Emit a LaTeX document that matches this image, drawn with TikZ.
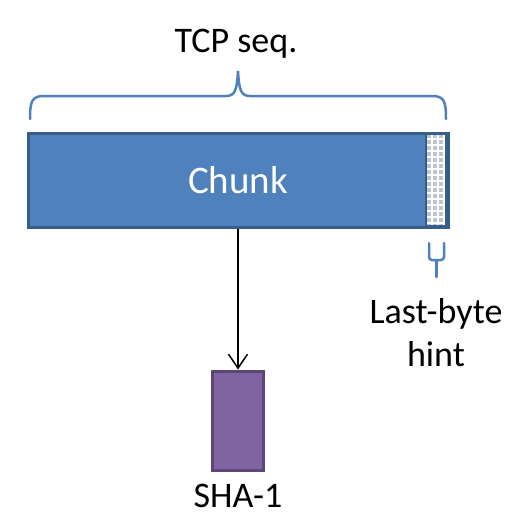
\documentclass[tikz,border=0pt]{standalone}
\usepackage{fontspec}
\setmainfont{Carlito}
\usetikzlibrary{arrows.meta,patterns.meta}
\definecolor{chunkblue}{RGB}{79,129,189}
\definecolor{chunkedge}{RGB}{56,93,138}
\definecolor{shapurple}{RGB}{128,100,162}
\definecolor{shaedge}{RGB}{92,71,118}
\definecolor{hintgray}{RGB}{190,196,206}

\begin{document}
\begin{tikzpicture}[x=1pt,y=-1pt,
  font=\fontsize{36}{43}\selectfont,
  chunkbox/.style={draw=chunkedge,line width=3pt,fill=chunkblue,
    minimum width=420pt,minimum height=94pt,inner sep=0pt,text=white,
    font=\fontsize{39}{43}\selectfont},
  hintbox/.style={draw=chunkedge,line width=1.5pt,
    preaction={fill=hintgray},
    pattern={Hatch[angle=0,distance=6pt,line width=1.2pt]},pattern color=white,
    minimum width=20pt,minimum height=91pt,inner sep=0pt},
  shabox/.style={draw=shaedge,line width=3pt,fill=shapurple,
    minimum width=51pt,minimum height=99pt,inner sep=0pt},
  brace/.style={draw=chunkblue,line width=2.5pt,line cap=round},
  flow/.style={-{Straight Barb[length=14pt,width=19pt,line width=1.5pt]},
    draw=black,line width=1.5pt},
  label/.style={text=black,inner sep=0pt,align=center}]
\useasboundingbox[fill=white] (0,0) rectangle (525,517);

\node[chunkbox] (chunk) at (238,180) {Chunk};
\node[hintbox] (hint) at (436,180) {};
\node[shabox] (sha) at (238,420.5) {};

\node[label,anchor=base] (tcp) at (236,52) {TCP seq.};
\node[label] (lastbyte) at (436,333) {Last-byte\\hint};
\node[label,anchor=base] (shaname) at (238,507) {SHA-1};

% braces
\draw[brace] (30,119) .. controls (30,101) and (32,96) .. (44,96) -- (226,96)
  .. controls (235,96) and (237,90) .. (238,71)
  .. controls (239,90) and (241,96) .. (250,96) -- (432,96)
  .. controls (444,96) and (446,101) .. (446,119);
\draw[brace,rounded corners=3pt] (429,243) -- (429,260) -- (444,260) -- (444,243);
\draw[brace] (436.5,260) -- (436.5,277);

\draw[flow] (chunk.south) -- (sha.north);
\end{tikzpicture}
\end{document}
